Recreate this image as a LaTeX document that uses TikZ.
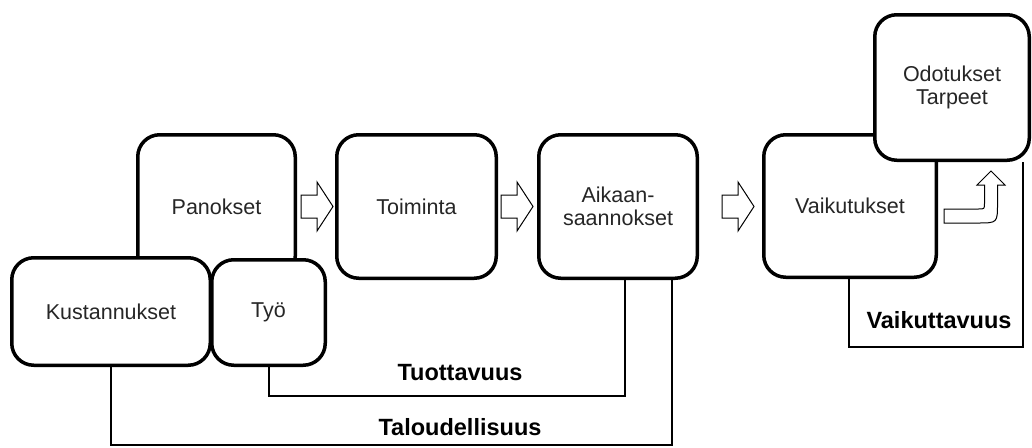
\documentclass[tikz,border=0pt]{standalone}
\usepackage{fontspec}
\setmainfont{Liberation Sans}

\tikzset{
  box/.style={draw=black, line width=3.5pt, rounded corners=22pt, fill=white,
    align=center, inner sep=0pt, text=black!85,
    font=\fontsize{21.5pt}{23pt}\selectfont},
  conn/.style={draw=black, line width=2pt},
  lbl/.style={inner sep=0pt, font=\fontsize{23.5pt}{26pt}\selectfont\bfseries},
  hollow/.style={draw=black, line width=1pt, fill=white, line join=miter},
  pics/fatarrow/.style={code={
    \draw[hollow] (0,-11.5) -- (16,-11.5) -- (16,-24.5) -- (32,0)
      -- (16,24.5) -- (16,11.5) -- (0,11.5) -- cycle;}},
}

\begin{document}
\begin{tikzpicture}[x=1pt, y=-1pt]
    \useasboundingbox (0,0) rectangle (1032,447);

    % boxes
    \node[box, minimum width=157.5pt, minimum height=143.5pt] (pan) at (216.5,206.5) {Panokset};
    \node[box, minimum width=159.5pt, minimum height=143.5pt] (toi) at (416.5,206.5) {Toiminta};
    \node[box, minimum width=158.5pt, minimum height=143.5pt] (aik) at (618,206.5) {Aikaan-\\saannokset};
    \node[box, minimum width=172.5pt, minimum height=142.5pt] (vai) at (850,206) {Vaikutukset};
    \node[box, minimum width=154.5pt, minimum height=145.5pt] (odo) at (952,87.5) {Odotukset\\Tarpeet};
    \node[box, minimum width=198.5pt, minimum height=107.5pt] (kus) at (111,311.5) {Kustannukset};
    \node[box, minimum width=113.5pt, minimum height=105.5pt] (tyo) at (268.5,312.5) {Työ};

    % flow arrows
    \pic at (301,206.5) {fatarrow};
    \pic at (501,206.5) {fatarrow};
    \pic at (722,206.5) {fatarrow};
    \draw[hollow] (944,209) -- (978.5,209) .. controls (984.5,209) .. (984.5,203)
        -- (984.5,185) -- (977,185) -- (991,171) -- (1005,185) -- (997.5,185)
        -- (997.5,203) .. controls (997.5,223) .. (977.5,223) -- (944,223) -- cycle;

    % measures
    \coordinate (tuo) at (0,396);
    \coordinate (tal) at (0,445);
    \coordinate (vkt) at (0,347);
    \draw[conn] (tyo.south) -- (tyo.south |- tuo) -| ([xshift=7pt]aik.south);
    \draw[conn] (kus.south) -- (kus.south |- tal) -| ([xshift=54pt]aik.south);
    \draw[conn] ([xshift=-1pt]vai.south) -- ([xshift=-1pt]vai.south |- vkt) -| ([xshift=71pt]odo.south);

    \node[lbl] (tuolbl) at (460,373) {Tuottavuus};
    \node[lbl] (tallbl) at (460,427) {Taloudellisuus};
    \node[lbl] (vktlbl) at (939,320) {Vaikuttavuus};
\end{tikzpicture}
\end{document}
